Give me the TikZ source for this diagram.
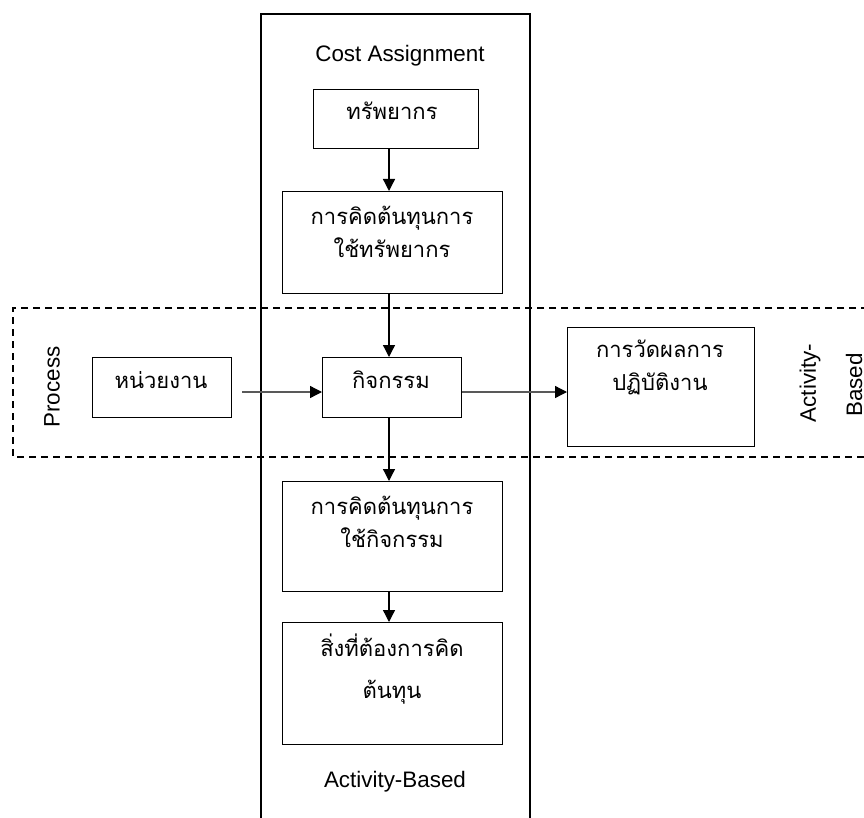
\documentclass[tikz,border=0pt]{standalone}
\usepackage{fontspec}
\setmainfont{Liberation Sans}
\newfontfamily\thai[Script=Thai]{Loma}
\usetikzlibrary{arrows.meta}
\tikzset{
  box/.style={draw, line width=1.3pt, inner sep=0pt, anchor=north west},
  tx/.style={inner sep=0pt, align=center, font=\thai\fontsize{22}{33}\selectfont},
  lat/.style={inner sep=0pt, align=center, font=\fontsize{22.4}{26}\selectfont},
  arr/.style={line width=1.3pt, -{Triangle[length=12pt,width=12pt]}},
  harr/.style={line width=1.3pt, draw=black!65, -{Triangle[length=12pt,width=12pt,color=black,fill=black]}},
  frame/.style={line width=1.3pt},
  dframe/.style={line width=1.3pt, dash pattern=on 7pt off 5pt}
}
\begin{document}
\begin{tikzpicture}[x=1pt,y=-1pt]
\useasboundingbox (0,0) rectangle (864,818);
% frames
\draw[frame] (261,830) -- (261,14) -- (530,14) -- (530,830);
\draw[dframe] (880,308) -- (13,308) -- (13,457) -- (880,457);
% boxes
\node[box, minimum width=165pt, minimum height=59pt] (r1) at (313,89) {};
\node[box, minimum width=220pt, minimum height=102pt] (r2) at (282,191) {};
\node[box, minimum width=139pt, minimum height=60pt] (unit) at (92,357) {};
\node[box, minimum width=139pt, minimum height=60pt] (act) at (322,357) {};
\node[box, minimum width=187pt, minimum height=119pt] (perf) at (567,327) {};
\node[box, minimum width=220pt, minimum height=110pt] (r4) at (282,481) {};
\node[box, minimum width=220pt, minimum height=122pt] (r5) at (282,622) {};
% texts
\node[lat] (cost) at (400,56) {Cost Assignment};
\node[lat] (ab) at (395,782) {Activity-Based};
\node[lat, rotate=90] (proc) at (52,387) {Process};
\node[lat, rotate=90] (ab1) at (810,383) {Activity-};
\node[lat, rotate=90] (ab2) at (854,385) {Based};
\node[tx] (t1) at (392,111) {ทรัพยากร};
\node[tx] (t2) at (392,232) {การคิดต้นทุนการ\\ใช้ทรัพยากร};
\node[tx] (t3) at (161,380) {หน่วยงาน};
\node[tx] (t4) at (391,380) {กิจกรรม};
\node[tx] (t5) at (660,367) {การวัดผลการ\\ปฏิบัติงาน};
\node[tx] (t6) at (392,522) {การคิดต้นทุนการ\\ใช้กิจกรรม};
\node[tx, font=\thai\fontsize{22}{42}\selectfont] (t7) at (392,669) {สิ่งที่ต้องการคิด\\ต้นทุน};
% connectors
\coordinate (ax) at (389,0);
\coordinate (ay) at (0,392);
\draw[arr] (r1.south -| ax) -- (r2.north -| ax);
\draw[arr] (r2.south -| ax) -- (act.north -| ax);
\draw[arr] (act.south -| ax) -- (r4.north -| ax);
\draw[arr] (r4.south -| ax) -- (r5.north -| ax);
\draw[harr, shorten <=10pt] (unit.east |- ay) -- (act.west |- ay);
\draw[harr] (act.east |- ay) -- (perf.west |- ay);
\end{tikzpicture}
\end{document}
